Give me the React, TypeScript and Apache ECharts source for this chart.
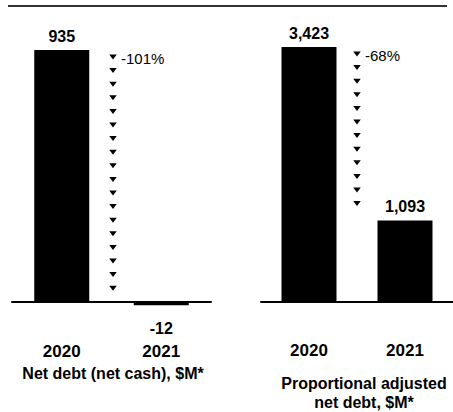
import React, { useEffect, useRef } from "react";
import * as echarts from "echarts";

const categories = ["2020", "2021"];
const netDebt = [935, -12];
const propAdjNetDebt = [3423, 1093];
const panelTitles = ["Net debt (net cash), $M*", "Proportional adjusted\nnet debt, $M*"];

const FONT = "'Liberation Sans', Arial, sans-serif";

function arrowRender(params: any, api: any) {
  const from = api.value(1);
  const to = api.value(2);
  const xa = api.coord([0, from])[0];
  const xb = api.coord([1, from])[0];
  const x = (xa + xb) / 2 + (params.seriesIndex === 2 ? 1.5 : 0);
  const y0 = api.coord([0, from])[1] + 7;
  const y1 = api.coord([1, to])[1] - 8;
  const step = 13.6;
  const n = Math.floor((y1 - y0) / step) + 1;
  const children: any[] = [];
  for (let i = 0; i < n; i++) {
    const y = y0 + i * step;
    children.push({
      type: "polygon",
      shape: { points: [[x - 3.75, y - 2.5], [x + 3.75, y - 2.5], [x, y + 2.5]] },
      style: { fill: "#000" },
    });
  }
  const pct = Math.round(((to - from) / Math.abs(from)) * 100);
  children.push({
    type: "text",
    x: x + 8,
    y: y0 + 1,
    style: {
      text: pct + "%",
      align: "left",
      verticalAlign: "middle",
      fontSize: 15,
      fontFamily: FONT,
      fill: "#000",
    },
  });
  return { type: "group", children };
}

export default function App() {
  const ref = useRef<HTMLDivElement>(null);
  useEffect(() => {
    if (!ref.current) return;
    const chart = echarts.init(ref.current, null, { renderer: "svg" });
    const labelStyle = { fontSize: 16, fontWeight: "bold" as const, fontFamily: FONT, color: "#000" };
    const xAxisBase = {
      type: "category" as const,
      data: categories,
      axisLine: { onZero: true, lineStyle: { color: "#000", width: 2 } },
      axisTick: { show: false },
    };
    chart.setOption({
      animation: false,
      grid: [
        { left: 12, top: 50, width: 199, height: 260 },
        { left: 261, top: 47, width: 200, height: 260 },
      ],
      xAxis: [
        { ...xAxisBase, gridIndex: 0, axisLabel: { ...labelStyle, fontSize: 17, margin: 33 } },
        { ...xAxisBase, gridIndex: 1, axisLabel: { ...labelStyle, fontSize: 17, margin: 35 } },
      ],
      yAxis: [
        { type: "value", gridIndex: 0, min: -30, max: 935, show: false, splitLine: { show: false } },
        { type: "value", gridIndex: 1, min: -67, max: 3423, show: false, splitLine: { show: false } },
      ],
      series: [
        {
          type: "bar",
          xAxisIndex: 0,
          yAxisIndex: 0,
          barWidth: 55,
          itemStyle: { color: "#000" },
          label: {
            show: true,
            position: "top",
            distance: 6,
            ...labelStyle,
            formatter: (p: any) => p.value.toLocaleString("en-US"),
          },
          data: netDebt.map((v) =>
            v < 0 ? { value: v, label: { position: "bottom", distance: 15 } } : v
          ),
        },
        {
          type: "bar",
          xAxisIndex: 1,
          yAxisIndex: 1,
          barWidth: 55,
          itemStyle: { color: "#000" },
          label: {
            show: true,
            position: "top",
            distance: 6,
            ...labelStyle,
            formatter: (p: any) => p.value.toLocaleString("en-US"),
          },
          data: propAdjNetDebt,
        },
        {
          type: "custom",
          xAxisIndex: 0,
          yAxisIndex: 0,
          clip: false,
          silent: true,
          renderItem: arrowRender,
          encode: { x: 0, y: 1 },
          data: [[0, netDebt[0], netDebt[1]]],
        },
        {
          type: "custom",
          xAxisIndex: 1,
          yAxisIndex: 1,
          clip: false,
          silent: true,
          renderItem: arrowRender,
          encode: { x: 0, y: 1 },
          data: [[0, propAdjNetDebt[0], propAdjNetDebt[1]]],
        },
      ],
      graphic: [
        {
          type: "line",
          shape: { x1: 8, y1: 6, x2: 447, y2: 6 },
          style: { stroke: "#333", lineWidth: 2 },
        },
        {
          type: "text",
          x: 113,
          y: 373,
          style: {
            text: panelTitles[0],
            align: "center",
            verticalAlign: "middle",
            fontSize: 16,
            fontWeight: "bold",
            fontFamily: FONT,
            fill: "#000",
          },
        },
        {
          type: "text",
          x: 364,
          y: 392.5,
          style: {
            text: panelTitles[1],
            align: "center",
            verticalAlign: "middle",
            fontSize: 16,
            lineHeight: 19,
            fontWeight: "bold",
            fontFamily: FONT,
            fill: "#000",
          },
        },
      ],
    });
    return () => chart.dispose();
  }, []);
  return (
    <div
      ref={ref}
      style={{ position: "absolute", left: 0, top: 0, width: 453, height: 412, background: "#fff" }}
    />
  );
}
